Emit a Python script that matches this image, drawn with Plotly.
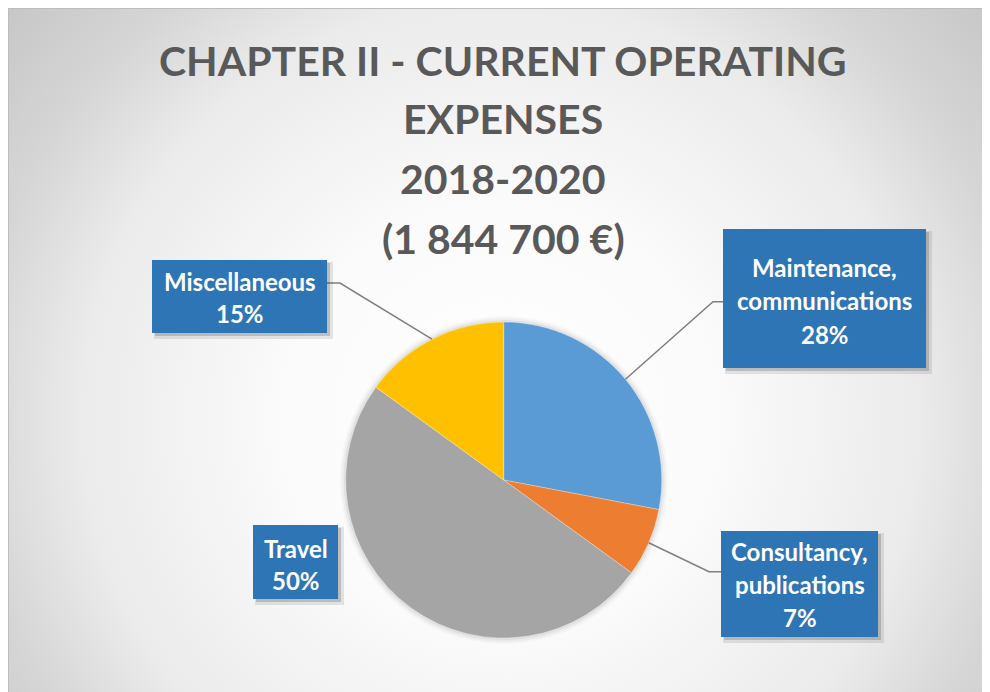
import base64, math
import plotly.graph_objects as go

# ---------------- data ----------------
categories = ["Maintenance, communications", "Consultancy, publications", "Travel", "Miscellaneous"]
shares = [28, 7, 50, 15]                      # % of total
colors = ["#5B9BD5", "#ED7D31", "#A5A5A5", "#FFC000"]
title_lines = ["CHAPTER II - CURRENT OPERATING", "EXPENSES", "2018-2020", "(1 844 700 €)"]

# ---------------- geometry (page pixels) ----------------
W, H = 990, 692
OFF = 8                      # page body margin
CX, CY, R = 503.7, 480.0, 158.0
FONT = "Lato"

def px(x):
    return (x - OFF) / W

def py(y):
    return 1 - (y - OFF) / H

# label boxes: (x0, y0, x1, y1), first text line y, line spacing, leader start (x, y), elbow x
boxes = {
    "Maintenance, communications": dict(box=(723, 229, 926, 368), ty=267, dy=33.5, lead=(723, 301.7), elbow=713),
    "Consultancy, publications": dict(box=(721, 531, 878, 637), ty=551, dy=33, lead=(721, 571.7), elbow=709),
    "Travel": dict(box=(253, 525, 338, 599), ty=548, dy=32, lead=None, elbow=None),
    "Miscellaneous": dict(box=(152, 260, 327, 333), ty=281, dy=32, lead=(327, 283), elbow=340),
}

# ---------------- background (radial gradient) ----------------
svg = (
    '<svg xmlns="http://www.w3.org/2000/svg" width="990" height="692" viewBox="0 0 990 692">'
    '<defs><radialGradient id="g" gradientUnits="userSpaceOnUse" cx="492" cy="412" r="700">'
    '<stop offset="0" stop-color="#ffffff"/>'
    '<stop offset="0.3" stop-color="#fbfbfb"/>'
    '<stop offset="0.6" stop-color="#ebebeb"/>'
    '<stop offset="0.75" stop-color="#d6d6d6"/>'
    '<stop offset="1" stop-color="#bfbfbf"/>'
    '</radialGradient></defs>'
    '<rect width="990" height="692" fill="url(#g)"/>'
    '<path d="M 0.5 692 L 0.5 0.5 L 990 0.5" fill="none" stroke="#bdbdbd" stroke-width="1"/>'
    '</svg>'
)
bg_uri = "data:image/svg+xml;base64," + base64.b64encode(svg.encode()).decode()

fig = go.Figure()
fig.add_trace(go.Pie(
    labels=categories,
    values=shares,
    marker=dict(colors=colors, line=dict(color="rgba(255,255,255,0.6)", width=0.5)),
    sort=False,
    direction="clockwise",
    rotation=0,
    textinfo="none",
    hoverinfo="label+percent",
    domain=dict(x=[px(CX - R), px(CX + R)], y=[py(CY + R), py(CY - R)]),
    showlegend=False,
))

shapes = []
annotations = []

# pie soft shadow
for k, a in [(6, 0.025), (4, 0.035), (2, 0.05)]:
    shapes.append(dict(type="circle", xref="paper", yref="paper", layer="below",
                       x0=px(CX - R - k), x1=px(CX + R + k), y0=py(CY + R + k), y1=py(CY - R - k),
                       fillcolor=f"rgba(0,0,0,{a})", line=dict(width=0)))

total = sum(shares)
cum = 0
for cat, v in zip(categories, shares):
    frac = (cum + v / 2) / total
    cum += v
    th = 2 * math.pi * frac
    ex, ey = CX + R * math.sin(th), CY - R * math.cos(th)
    b = boxes[cat]
    x0, y0, x1, y1 = b["box"]
    # leader line
    if b["lead"] is not None:
        lx, ly = b["lead"]
        path = f"M {px(lx)} {py(ly)} L {px(b['elbow'])} {py(ly)} L {px(ex)} {py(ey)}"
        shapes.append(dict(type="path", xref="paper", yref="paper", layer="above", path=path,
                           line=dict(color="#7f7f7f", width=1.5)))
    # shadow
    for off, grow, a in [(4, 2, 0.12), (3, 0, 0.22)]:
        shapes.append(dict(type="rect", xref="paper", yref="paper", layer="above",
                           x0=px(x0 + off - grow), x1=px(x1 + off + grow),
                           y0=py(y1 + off + grow), y1=py(y0 + off - grow),
                           fillcolor=f"rgba(60,60,60,{a})", line=dict(width=0)))
    # box
    shapes.append(dict(type="rect", xref="paper", yref="paper", layer="above",
                       x0=px(x0), x1=px(x1), y0=py(y1), y1=py(y0),
                       fillcolor="#2E75B6", line=dict(width=0)))
    # text lines
    parts = cat.replace(", ", ",\n").split("\n") + [f"{round(100 * v / total)}%"]
    for i, t in enumerate(parts):
        annotations.append(dict(xref="paper", yref="paper", x=px((x0 + x1) / 2), y=py(b["ty"] + i * b["dy"]),
                                text=t, showarrow=False, xanchor="center", yanchor="middle",
                                font=dict(family=FONT, size=24, color="white", weight="bold")))

# title
title_y = [60, 118, 178, 238]
for t, yy in zip(title_lines, title_y):
    annotations.append(dict(xref="paper", yref="paper", x=px(503), y=py(yy), text=t, showarrow=False,
                            xanchor="center", yanchor="middle",
                            font=dict(family=FONT, size=41, color="#595959", weight="bold")))

fig.update_layout(
    width=W, height=H,
    margin=dict(l=0, r=0, t=0, b=0),
    paper_bgcolor="white",
    plot_bgcolor="rgba(0,0,0,0)",
    shapes=shapes,
    annotations=annotations,
    images=[dict(source=bg_uri, xref="paper", yref="paper", x=0, y=1, sizex=1, sizey=1,
                 xanchor="left", yanchor="top", sizing="stretch", layer="below")],
    showlegend=False,
)

fig.write_html("out.html")
